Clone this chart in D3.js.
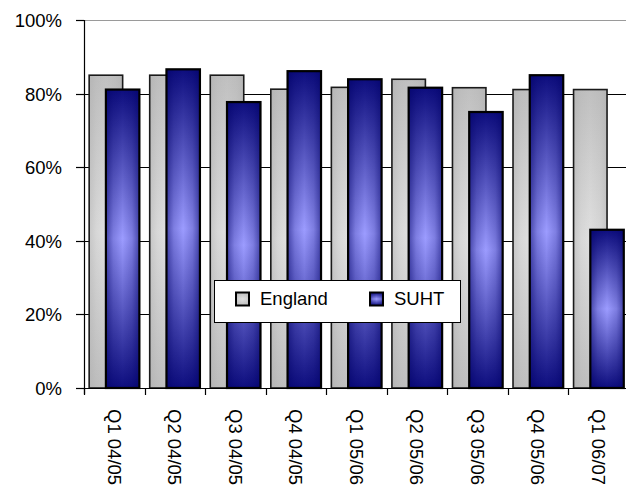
<!DOCTYPE html>
<html>
<head>
<meta charset="utf-8">
<script src="https://cdn.jsdelivr.net/npm/d3@7"></script>
<style>
  html, body { margin: 0; padding: 0; background: #fff; }
  svg { display: block; }
  text { font-family: "Liberation Sans", Arial, sans-serif; fill: #000; }
</style>
</head>
<body>
<svg id="chart" width="626" height="486"></svg>
<script>
// Quarterly percentages, England vs SUHT
const categories = ["Q1 04/05", "Q2 04/05", "Q3 04/05", "Q4 04/05", "Q1 05/06",
                    "Q2 05/06", "Q3 05/06", "Q4 05/06", "Q1 06/07"];
const england = [85, 85, 85, 81.2, 81.7, 83.9, 81.6, 81.1, 81.1];
const suht    = [81.1, 86.6, 77.7, 86.1, 83.9, 81.6, 75.0, 85.0, 43.0];
const seriesNames = ["England", "SUHT"];
const yTicks = [0, 20, 40, 60, 80, 100];

const svg = d3.select("#chart");
const plotLeft = 84, plotTop = 20, plotBottom = 388, bandW = 60.55;
const plotRight = plotLeft + bandW * categories.length;

const x = d3.scaleBand().domain(categories).range([plotLeft, plotRight]).padding(0);
const y = d3.scaleLinear().domain([0, 100]).range([plotBottom, plotTop]);

// bar shading: light band across the middle, darker toward the ends and sides
const defs = svg.append("defs");
function vGrad(id, edge, mid) {
  const g = defs.append("linearGradient").attr("id", id)
    .attr("x1", 0).attr("y1", 0).attr("x2", 0).attr("y2", 1);
  g.append("stop").attr("offset", "0%").attr("stop-color", edge);
  g.append("stop").attr("offset", "50%").attr("stop-color", mid);
  g.append("stop").attr("offset", "100%").attr("stop-color", edge);
}
function hShade(id, color, op) {
  const g = defs.append("linearGradient").attr("id", id)
    .attr("x1", 0).attr("y1", 0).attr("x2", 1).attr("y2", 0);
  g.append("stop").attr("offset", "0%").attr("stop-color", color).attr("stop-opacity", op);
  g.append("stop").attr("offset", "22%").attr("stop-color", color).attr("stop-opacity", op * 0.35);
  g.append("stop").attr("offset", "50%").attr("stop-color", color).attr("stop-opacity", 0);
  g.append("stop").attr("offset", "78%").attr("stop-color", color).attr("stop-opacity", op * 0.35);
  g.append("stop").attr("offset", "100%").attr("stop-color", color).attr("stop-opacity", op);
}
vGrad("gEng", "#c0c0c0", "#e0e0e0");
vGrad("gSuht", "#0d0d7e", "#9c9cff");
hShade("hEng", "#a8a8a8", 0.45);
hShade("hSuht", "#000066", 0.55);

// plot area top border
svg.append("line").attr("x1", plotLeft).attr("x2", 626).attr("y1", plotTop + 0.5).attr("y2", plotTop + 0.5)
  .attr("stroke", "#9a9a9a").attr("stroke-width", 1.2);

// gridlines
svg.append("g").selectAll("line").data(yTicks.filter(d => d > 0 && d < 100)).join("line")
  .attr("x1", plotLeft).attr("x2", 626)
  .attr("y1", d => Math.round(y(d)) + 0.5).attr("y2", d => Math.round(y(d)) + 0.5)
  .attr("stroke", "#000").attr("stroke-width", 1);

// bars
const barW = x.bandwidth() * 0.553;
const off = (x.bandwidth() - 1.5 * barW) / 2;
const rows = categories.map((c, i) => ({ c, e: england[i], s: suht[i] }));

const gBars = svg.append("g");
rows.forEach(r => {
  const x0 = x(r.c) + off;
  [[r.e, x0, "gEng", "hEng", "#1a1a1a", 1.6], [r.s, x0 + barW / 2, "gSuht", "hSuht", "#000", 2.2]]
    .forEach(([v, bx, g, h, sc, sw]) => {
      gBars.append("rect").attr("x", bx).attr("y", y(v)).attr("width", barW).attr("height", y(0) - y(v))
        .attr("fill", `url(#${g})`);
      gBars.append("rect").attr("x", bx).attr("y", y(v)).attr("width", barW).attr("height", y(0) - y(v))
        .attr("fill", `url(#${h})`).attr("stroke", sc).attr("stroke-width", sw);
    });
});

// y axis
svg.append("line").attr("x1", plotLeft + 0.5).attr("x2", plotLeft + 0.5).attr("y1", plotTop).attr("y2", plotBottom + 6)
  .attr("stroke", "#000").attr("stroke-width", 1.2);
const yAxis = svg.append("g");
yTicks.forEach(t => {
  const yy = Math.round(y(t)) + 0.5;
  yAxis.append("line").attr("x1", plotLeft - 8).attr("x2", plotLeft).attr("y1", yy).attr("y2", yy)
    .attr("stroke", "#000").attr("stroke-width", 1.2);
  yAxis.append("text").attr("x", 62).attr("y", yy).attr("dy", "0.36em")
    .attr("text-anchor", "end").attr("font-size", 18.5).text(t + "%");
});

// x axis
svg.append("line").attr("x1", plotLeft).attr("x2", 626).attr("y1", plotBottom + 0.5).attr("y2", plotBottom + 0.5)
  .attr("stroke", "#000").attr("stroke-width", 1.2);
const xAxis = svg.append("g");
categories.forEach(c => {
  const bx = Math.round(x(c)) + 0.5;
  xAxis.append("line").attr("x1", bx).attr("x2", bx).attr("y1", plotBottom).attr("y2", plotBottom + 7)
    .attr("stroke", "#000").attr("stroke-width", 1.2);
  xAxis.append("text")
    .attr("transform", `translate(${x(c) + x.bandwidth() / 2},409) rotate(90)`)
    .attr("dy", "0.36em").attr("text-anchor", "start").attr("font-size", 18.5).text(c);
});

// legend
const lg = svg.append("g");
lg.append("rect").attr("x", 214.5).attr("y", 280.5).attr("width", 246).attr("height", 42)
  .attr("fill", "#fff").attr("stroke", "#000").attr("stroke-width", 1);
const legendItems = [
  { name: seriesNames[0], sx: 236, tx: 260, g: "gEng", h: "hEng" },
  { name: seriesNames[1], sx: 370, tx: 394, g: "gSuht", h: "hSuht" }
];
legendItems.forEach(it => {
  lg.append("rect").attr("x", it.sx).attr("y", 292.5).attr("width", 13).attr("height", 13)
    .attr("fill", `url(#${it.g})`);
  lg.append("rect").attr("x", it.sx).attr("y", 292.5).attr("width", 13).attr("height", 13)
    .attr("fill", `url(#${it.h})`).attr("stroke", "#000").attr("stroke-width", 2);
  lg.append("text").attr("x", it.tx).attr("y", 305).attr("font-size", 18.5).text(it.name);
});
</script>
</body>
</html>
